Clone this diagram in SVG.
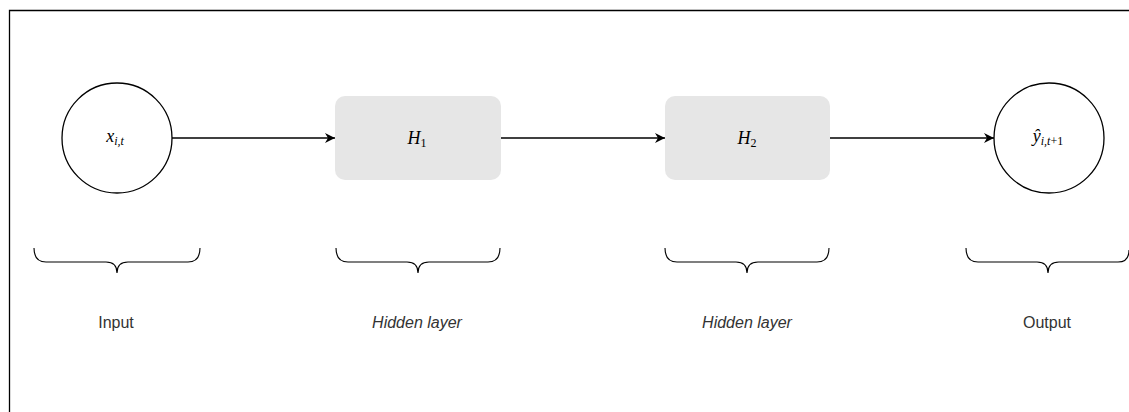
<svg xmlns="http://www.w3.org/2000/svg" width="1129" height="412" viewBox="0 0 1129 412">
<defs>
<marker id="arr" viewBox="0 0 10 10" refX="10" refY="5" markerWidth="10" markerHeight="10" markerUnits="userSpaceOnUse" orient="auto">
<path d="M0,0 L10,5 L0,10 L3,5 Z" fill="#000"/>
</marker>
<style>
.circ{fill:#fff;stroke:#000;stroke-width:1.3}
.box{fill:#e6e6e6;stroke:none}
.edge{stroke:#000;stroke-width:1.3;fill:none}
.brace{stroke:#000;stroke-width:1.1;fill:none}
.math{font-family:"Liberation Serif","DejaVu Serif",serif;font-style:italic;font-size:18px;fill:#000;text-anchor:middle}
.sub{font-size:12px}
.lbl{font-family:"Liberation Sans",Arial,sans-serif;font-size:16px;fill:#333;text-anchor:middle}
.it{font-style:italic}
</style>
</defs>
<rect width="1129" height="412" fill="#fff"/>
<path d="M9.5,412 L9.5,10.5 L1129,10.5" stroke="#000" stroke-width="1.3" fill="none"/>
<g id="connectors">
<line class="edge" x1="172" y1="138" x2="335" y2="138" marker-end="url(#arr)"/>
<line class="edge" x1="501" y1="138" x2="665" y2="138" marker-end="url(#arr)"/>
<line class="edge" x1="830" y1="138" x2="994" y2="138" marker-end="url(#arr)"/>
</g>
<g id="input">
<circle class="circ" cx="117" cy="138" r="55"/>
<text class="math" x="115" y="142">x<tspan class="sub" dy="3">i,t</tspan></text>
</g>
<g id="h1">
<rect class="box" x="335" y="96" width="166" height="84" rx="10"/>
<text class="math" x="417" y="144">H<tspan class="sub" dy="3" font-style="normal">1</tspan></text>
</g>
<g id="h2">
<rect class="box" x="665" y="96" width="165" height="84" rx="10"/>
<text class="math" x="747" y="144">H<tspan class="sub" dy="3" font-style="normal">2</tspan></text>
</g>
<g id="output">
<circle class="circ" cx="1049" cy="138" r="55"/>
<text class="math" x="1048" y="142">ŷ<tspan class="sub" dy="3">i,t</tspan><tspan class="sub" font-style="normal">+1</tspan></text>
</g>
<g id="brace-input">
<path class="brace" d="M34,248 Q34,262 46,262 L106,262 Q117,262 117,273 Q117,262 128,262 L188,262 Q200,262 200,248"/>
<text class="lbl" x="116" y="328">Input</text>
</g>
<g id="brace-h1">
<path class="brace" d="M336,248 Q336,262 348,262 L407,262 Q418,262 418,273 Q418,262 429,262 L488,262 Q500,262 500,248"/>
<text class="lbl it" x="417" y="328">Hidden layer</text>
</g>
<g id="brace-h2">
<path class="brace" d="M665,248 Q665,262 677,262 L736,262 Q747,262 747,273 Q747,262 758,262 L817,262 Q829,262 829,248"/>
<text class="lbl it" x="747" y="328">Hidden layer</text>
</g>
<g id="brace-output">
<path class="brace" d="M966,248 Q966,262 978,262 L1037,262 Q1048,262 1048,273 Q1048,262 1059,262 L1118,262 Q1129,262 1129,250"/>
<text class="lbl" x="1047" y="328">Output</text>
</g>
</svg>
